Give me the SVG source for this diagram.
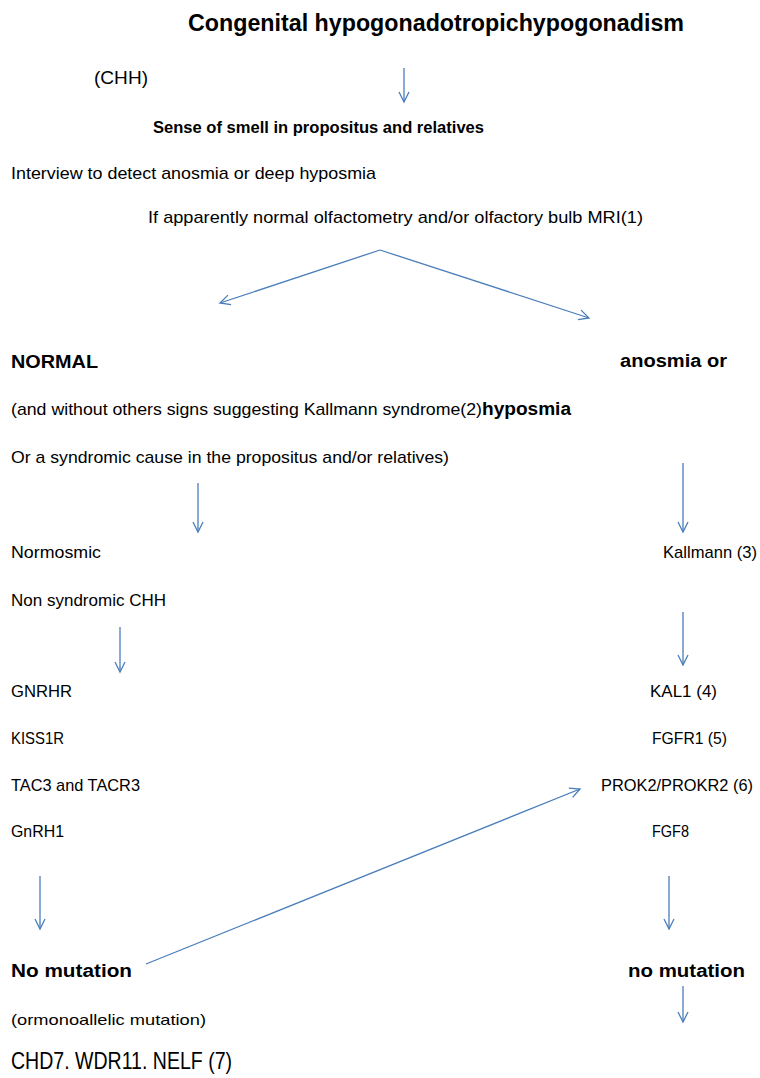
<svg xmlns="http://www.w3.org/2000/svg" width="760" height="1078" viewBox="0 0 760 1078">
<style>
text{font-family:"Liberation Sans",Arial,sans-serif;fill:#000}
.t{font-size:17px}
.b{font-weight:bold}
.c{stroke:#4a7ebb;stroke-width:1.3;fill:none}
</style>
<defs>
<marker id="ah" markerUnits="userSpaceOnUse" markerWidth="14" markerHeight="14" refX="11" refY="6" orient="auto" viewBox="0 0 14 12">
<path d="M1,1 L11,6 L1,11" fill="none" stroke="#4a7ebb" stroke-width="1.3"/>
</marker>
</defs>
<rect width="760" height="1078" fill="#fff"/>
<g id="connectors">
<line class="c" x1="404" y1="68" x2="404" y2="102" marker-end="url(#ah)"/>
<line class="c" x1="380" y1="250" x2="220" y2="303" marker-end="url(#ah)"/>
<line class="c" x1="380" y1="250" x2="589" y2="318" marker-end="url(#ah)"/>
<line class="c" x1="198" y1="483" x2="198" y2="532" marker-end="url(#ah)"/>
<line class="c" x1="683" y1="463" x2="683" y2="532" marker-end="url(#ah)"/>
<line class="c" x1="120" y1="627" x2="120" y2="672" marker-end="url(#ah)"/>
<line class="c" x1="683" y1="612" x2="683" y2="665" marker-end="url(#ah)"/>
<line class="c" x1="40" y1="876" x2="40" y2="929" marker-end="url(#ah)"/>
<line class="c" x1="669" y1="876" x2="669" y2="929" marker-end="url(#ah)"/>
<line class="c" x1="146" y1="964" x2="580" y2="789" marker-end="url(#ah)"/>
<line class="c" x1="683" y1="986" x2="683" y2="1022" marker-end="url(#ah)"/>
</g>
<g id="title"><text x="188" y="31" class="b" font-size="24" textLength="496" lengthAdjust="spacingAndGlyphs">Congenital hypogonadotropichypogonadism</text></g>
<g id="chh"><text x="94" y="84" font-size="19" textLength="54" lengthAdjust="spacingAndGlyphs">(CHH)</text></g>
<g id="sense"><text x="153" y="133" class="b" font-size="16" textLength="331" lengthAdjust="spacingAndGlyphs">Sense of smell in propositus and relatives</text></g>
<g id="interview"><text x="11" y="179" class="t" textLength="365" lengthAdjust="spacingAndGlyphs">Interview to detect anosmia or deep hyposmia</text></g>
<g id="olfacto"><text x="148" y="223" class="t" textLength="495" lengthAdjust="spacingAndGlyphs">If apparently normal olfactometry and/or olfactory bulb MRI(1)</text></g>
<g id="normal"><text x="11" y="368" class="b" font-size="18" textLength="87" lengthAdjust="spacingAndGlyphs">NORMAL</text></g>
<g id="anosmia"><text x="620" y="367" class="b" font-size="18" textLength="107" lengthAdjust="spacingAndGlyphs">anosmia or</text></g>
<g id="without"><text x="11" y="415" class="t" textLength="471" lengthAdjust="spacingAndGlyphs">(and without others signs suggesting Kallmann syndrome(2)</text><text x="482" y="415" class="b" font-size="18" textLength="89" lengthAdjust="spacingAndGlyphs">hyposmia</text></g>
<g id="syndromic"><text x="11" y="463" class="t" textLength="438" lengthAdjust="spacingAndGlyphs">Or a syndromic cause in the propositus and/or relatives)</text></g>
<g id="normosmic"><text x="11" y="558" class="t" textLength="90" lengthAdjust="spacingAndGlyphs">Normosmic</text></g>
<g id="kallmann"><text x="663" y="558" class="t" textLength="94" lengthAdjust="spacingAndGlyphs">Kallmann (3)</text></g>
<g id="nonsynd"><text x="11" y="606" class="t" textLength="155" lengthAdjust="spacingAndGlyphs">Non syndromic CHH</text></g>
<g id="gnrhr"><text x="11" y="697" class="t" textLength="61" lengthAdjust="spacingAndGlyphs">GNRHR</text></g>
<g id="kal1"><text x="650" y="697" class="t" textLength="67" lengthAdjust="spacingAndGlyphs">KAL1 (4)</text></g>
<g id="kiss1r"><text x="11" y="744" class="t" textLength="53" lengthAdjust="spacingAndGlyphs">KISS1R</text></g>
<g id="fgfr1"><text x="652" y="744" class="t" textLength="75" lengthAdjust="spacingAndGlyphs">FGFR1 (5)</text></g>
<g id="tac3"><text x="11" y="791" class="t" textLength="129" lengthAdjust="spacingAndGlyphs">TAC3 and TACR3</text></g>
<g id="prok2"><text x="601" y="791" class="t" textLength="152" lengthAdjust="spacingAndGlyphs">PROK2/PROKR2 (6)</text></g>
<g id="gnrh1"><text x="11" y="837" class="t" textLength="53" lengthAdjust="spacingAndGlyphs">GnRH1</text></g>
<g id="fgf8"><text x="652" y="837" class="t" textLength="37" lengthAdjust="spacingAndGlyphs">FGF8</text></g>
<g id="nomut-left"><text x="11" y="977" class="b" font-size="18" textLength="121" lengthAdjust="spacingAndGlyphs">No mutation</text></g>
<g id="nomut-right"><text x="628" y="977" class="b" font-size="18" textLength="117" lengthAdjust="spacingAndGlyphs">no mutation</text></g>
<g id="monoallelic"><text x="11" y="1025" font-size="15" textLength="195" lengthAdjust="spacingAndGlyphs">(ormonoallelic mutation)</text></g>
<g id="chd7"><text x="11" y="1069" font-size="24" textLength="221" lengthAdjust="spacingAndGlyphs">CHD7. WDR11. NELF (7)</text></g>
</svg>
